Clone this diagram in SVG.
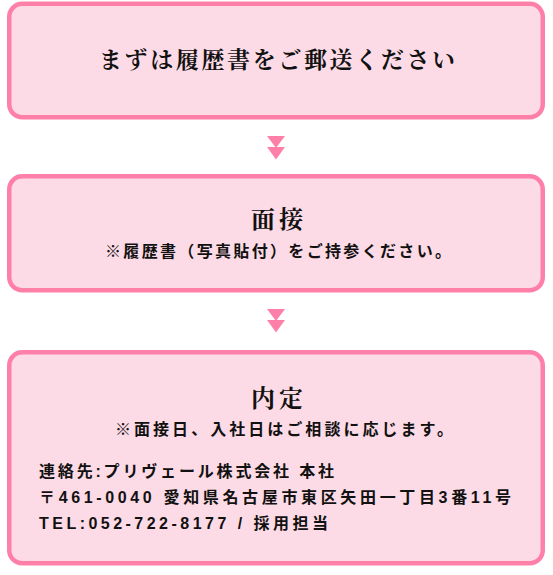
<svg xmlns="http://www.w3.org/2000/svg" width="553" height="575" viewBox="0 0 553 575">
<style>
.box{fill:#fddbe6;stroke:#fe80a9;stroke-width:4.5}
.arr{fill:#fe80a9}
.h{font-family:"Noto Serif CJK JP","Noto Sans CJK JP",serif;font-weight:bold;fill:#111}
.b{font-family:"Liberation Sans","Noto Sans CJK JP",sans-serif;font-weight:bold;font-size:16px;fill:#111}
</style>
<rect width="553" height="575" fill="#ffffff"/>
<g id="connectors">
<polygon class="arr" points="267,136 285,136 276,148"/>
<polygon class="arr" points="267,147 285,147 276,159.5"/>
<polygon class="arr" points="267,309 285,309 276,321"/>
<polygon class="arr" points="267,320 285,320 276,332.5"/>
</g>
<g id="node-1">
<rect class="box" x="9.25" y="3.75" width="533.5" height="113.5" rx="13"/>
<text class="h" x="99" y="68" font-size="23" textLength="356" lengthAdjust="spacing">まずは履歴書をご郵送ください</text>
</g>
<g id="node-2">
<rect class="box" x="9.25" y="176.25" width="533.5" height="114" rx="13"/>
<text class="h" x="251" y="227.5" font-size="24" textLength="52" lengthAdjust="spacing">面接</text>
<text class="b" x="105" y="256.5" textLength="346" lengthAdjust="spacing">※履歴書（写真貼付）をご持参ください。</text>
</g>
<g id="node-3">
<rect class="box" x="9.25" y="352.25" width="533.5" height="211" rx="13"/>
<text class="h" x="251" y="406.5" font-size="24" textLength="52" lengthAdjust="spacing">内定</text>
<text class="b" x="115" y="434.5" textLength="338" lengthAdjust="spacing">※面接日、入社日はご相談に応じます。</text>
<text class="b" x="39" y="476.5" textLength="295" lengthAdjust="spacing">連絡先:プリヴェール株式会社 本社</text>
<text class="b" x="39" y="502.5" textLength="472" lengthAdjust="spacing">〒461-0040 愛知県名古屋市東区矢田一丁目3番11号</text>
<text class="b" x="39" y="528.5" textLength="289" lengthAdjust="spacing">TEL:052-722-8177 / 採用担当</text>
</g>
</svg>
